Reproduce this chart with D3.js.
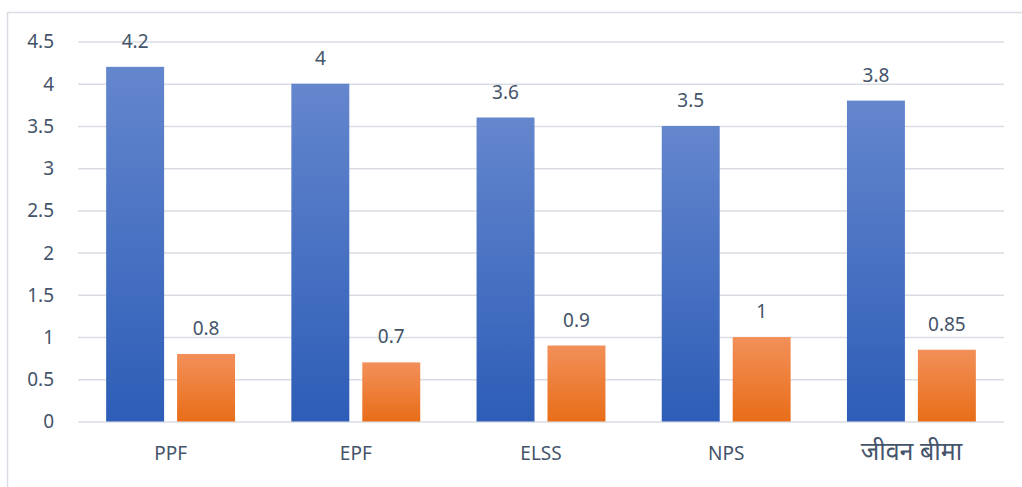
<!DOCTYPE html>
<html>
<head>
<meta charset="utf-8">
<script src="https://cdn.jsdelivr.net/npm/d3@7"></script>
<style>
  html, body { margin: 0; padding: 0; background: #fff; }
  svg { display: block; }
  text { font-family: "Noto Sans", "Open Sans", sans-serif; fill: #44546a; }
</style>
</head>
<body>
<div id="chart"></div>
<script>
// Savings schemes and their two series
const categories = ["PPF", "EPF", "ELSS", "NPS", "जीवन बीमा"];
const seriesA = [4.2, 4, 3.6, 3.5, 3.8];
const seriesB = [0.8, 0.7, 0.9, 1, 0.85];
const yTicks = [0, 0.5, 1, 1.5, 2, 2.5, 3, 3.5, 4, 4.5];

const W = 1022, H = 487;
const svg = d3.select("#chart").append("svg").attr("width", W).attr("height", H);

// Gradients for the two series
const defs = svg.append("defs");
function grad(id, top, bottom) {
  const g = defs.append("linearGradient").attr("id", id)
    .attr("x1", 0).attr("y1", 0).attr("x2", 0).attr("y2", 1);
  g.append("stop").attr("offset", "0%").attr("stop-color", top);
  g.append("stop").attr("offset", "100%").attr("stop-color", bottom);
}
grad("gBlue", "#6486cd", "#2d5db7");
grad("gOrange", "#f29059", "#e86d18");

// Chart frame
svg.append("rect").attr("x", 7.5).attr("y", 12.5).attr("width", W + 10).attr("height", H + 10)
  .attr("fill", "none").attr("stroke", "#d9dde3").attr("stroke-width", 1.5);

const left = 78, right = 1004;
const y = d3.scaleLinear().domain([0, 4.5]).range([421.5, 41.5]);
const x0 = d3.scaleBand().domain(categories).range([left, right]).paddingInner(0.304).paddingOuter(0.152);
const x1 = d3.scaleBand().domain(["a", "b"]).range([0, x0.bandwidth()]).paddingInner(0.183);

// Gridlines and value axis labels
const yAxis = d3.axisLeft(y).tickValues(yTicks).tickSize(-(right - left)).tickFormat(d3.format("~g")).tickPadding(24);
const ga = svg.append("g").attr("transform", `translate(${left},0)`).call(yAxis);
ga.select(".domain").remove();
ga.selectAll(".tick line").attr("stroke", "#d9dde3").attr("stroke-width", 1.5);
ga.selectAll(".tick text").attr("font-size", 19).style("fill", "#44546a").attr("dy", "0.34em");

// Bars
const groups = svg.append("g").selectAll("g").data(categories).join("g")
  .attr("transform", d => `translate(${x0(d)},0)`);

groups.append("rect")
  .attr("x", x1("a")).attr("width", x1.bandwidth())
  .attr("y", (d, i) => y(seriesA[i])).attr("height", (d, i) => y(0) - y(seriesA[i]))
  .attr("fill", "url(#gBlue)");
groups.append("rect")
  .attr("x", x1("b")).attr("width", x1.bandwidth())
  .attr("y", (d, i) => y(seriesB[i])).attr("height", (d, i) => y(0) - y(seriesB[i]))
  .attr("fill", "url(#gOrange)");

// Value labels
groups.append("text")
  .attr("x", x1("a") + x1.bandwidth() / 2).attr("y", (d, i) => y(seriesA[i]) - 19)
  .attr("text-anchor", "middle").attr("font-size", 19)
  .text((d, i) => seriesA[i]);
groups.append("text")
  .attr("x", x1("b") + x1.bandwidth() / 2).attr("y", (d, i) => y(seriesB[i]) - 19)
  .attr("text-anchor", "middle").attr("font-size", 19)
  .text((d, i) => seriesB[i]);

// Category labels
const xAxis = d3.axisBottom(x0).tickSize(0).tickPadding(0);
const gx = svg.append("g").attr("transform", `translate(0,${y(0)})`).call(xAxis);
gx.select(".domain").remove();
gx.selectAll(".tick text")
  .attr("font-size", d => /[\u0900-\u097F]/.test(d) ? 25 : 19)
  .style("fill", "#44546a").attr("y", 38).attr("dy", 0);
</script>
</body>
</html>
